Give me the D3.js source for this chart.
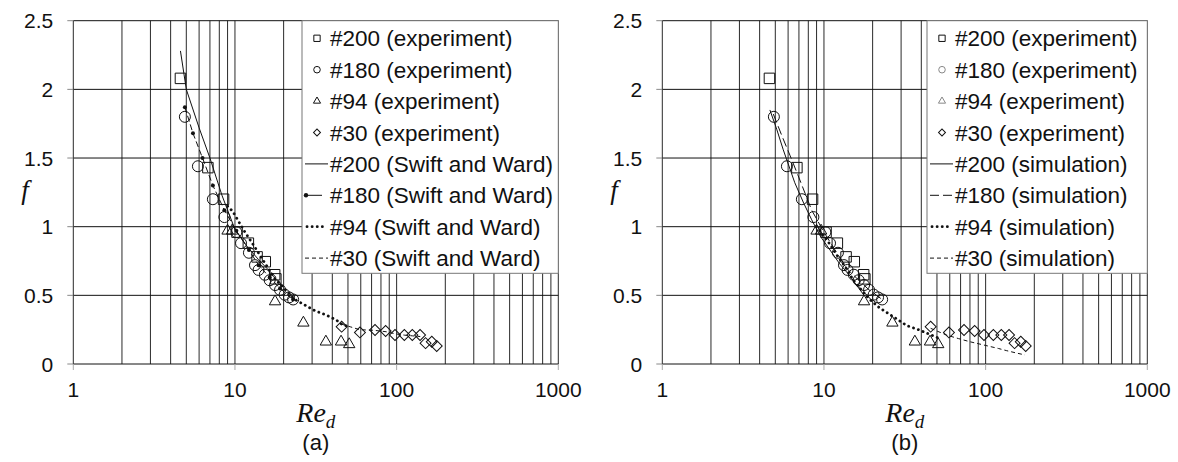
<!DOCTYPE html>
<html>
<head>
<meta charset="utf-8">
<script src="https://cdn.jsdelivr.net/npm/d3@7"></script>
<style>
  body { margin: 0; background: #fff; }
  svg text { font-family: "Liberation Sans", Arial, sans-serif; fill: #111; }
</style>
</head>
<body>
<script>
// axes
var xTicks = [1, 10, 100, 1000];
var xTickLabels = ["1", "10", "100", "1000"];
var yTicks = [0, 0.5, 1, 1.5, 2, 2.5];
var yTickLabels = ["0", "0.5", "1", "1.5", "2", "2.5"];

// experiments (same in both panels)
var exp200Re = [4.6, 6.8, 8.5, 10.3, 12.1, 13.7, 15.4, 17.6, 17.9];
var exp200F  = [2.08, 1.43, 1.20, 0.96, 0.88, 0.78, 0.745, 0.65, 0.62];
var exp180Re = [4.9, 5.9, 7.3, 8.6, 10.2, 10.9, 12.2, 13.3, 14.0, 15.3, 16.4, 17.7, 19.0, 20.3, 21.6, 22.9];
var exp180F  = [1.80, 1.44, 1.20, 1.07, 0.96, 0.88, 0.81, 0.72, 0.685, 0.65, 0.61, 0.575, 0.54, 0.505, 0.485, 0.47];
var exp94Re  = [9.0, 9.6, 17.7, 26.5, 36.5, 45.3, 50.9];
var exp94F   = [0.97, 0.97, 0.455, 0.30, 0.162, 0.162, 0.143];
var exp30Re  = [45.7, 59.3, 73.5, 85.5, 97.7, 111.6, 125, 139.6, 151, 165, 177];
var exp30F   = [0.272, 0.23, 0.248, 0.24, 0.211, 0.211, 0.211, 0.211, 0.152, 0.162, 0.131];

// Swift and Ward (panel a)
var sw200Re = [4.6, 5.0, 6.0, 7.0, 8.3, 10.0, 12.0, 14.0, 16.1, 18.0];
var sw200F  = [2.28, 2.0, 1.72, 1.50, 1.23, 0.98, 0.85, 0.76, 0.685, 0.63];
var sw180Re = [4.9, 5.5, 6.3, 7.3, 8.6, 10.2, 12.2, 14.0, 16.4, 19.0, 22.9];
var sw180F  = [1.87, 1.68, 1.50, 1.30, 1.12, 0.97, 0.83, 0.72, 0.63, 0.55, 0.47];
var sw94Re  = [9.0, 9.7, 11.4, 12.8, 14.3, 17.7, 23.4, 31, 36.9, 42.4, 45.7, 50.9];
var sw94F   = [1.15, 1.11, 0.97, 0.88, 0.79, 0.62, 0.47, 0.39, 0.355, 0.32, 0.29, 0.27];
var sw30Re  = [45.7, 52, 59, 73, 86, 98, 112, 125, 140];
var sw30F   = [0.29, 0.27, 0.25, 0.245, 0.235, 0.22, 0.21, 0.205, 0.20];

// simulation (panel b)
var sim200Re = [4.63, 5.1, 5.6, 6.6, 7.5, 8.4, 9.5, 10.9, 12.5, 14.5, 16.0, 17.7];
var sim200F  = [1.85, 1.71, 1.56, 1.32, 1.17, 1.05, 0.93, 0.83, 0.73, 0.64, 0.57, 0.50];
var sim180Re = [4.86, 5.5, 6.16, 6.93, 8.4, 10.0, 12.0, 14.0, 16.4, 19.0, 22.9];
var sim180F  = [1.82, 1.66, 1.52, 1.37, 1.12, 0.96, 0.81, 0.69, 0.61, 0.54, 0.47];
var sim94Re  = [9.0, 10.5, 11.9, 13.5, 15.2, 17.3, 19.2, 22, 25.6, 32.5, 38.4, 44.2, 50.9];
var sim94F   = [1.0, 0.9, 0.80, 0.71, 0.61, 0.53, 0.47, 0.41, 0.36, 0.28, 0.25, 0.22, 0.19];
var sim30Re  = [45.7, 50, 57.5, 68, 80, 100, 120, 135, 155, 175];
var sim30F   = [0.26, 0.24, 0.21, 0.185, 0.162, 0.135, 0.113, 0.097, 0.08, 0.066];

var W = 1178, H = 462;
var svg = d3.select("body").append("svg").attr("width", W).attr("height", H);

// plot box for panel (a); panel (b) is shifted by 589
var pLeft = 73.3, pRight = 558.3, pTop = 20.7, pBottom = 364;
var x = d3.scaleLog().domain([1, 1000]).range([pLeft, pRight]);
var y = d3.scaleLinear().domain([0, 2.5]).range([pBottom, pTop]);

var lineStyles = {
  solid:    {dash: null, w: 1},
  dotline:  {dash: "6,3", w: 1},
  dotted:   {dash: "0.1,5", w: 2.8, cap: "round"},
  dashed:   {dash: "4,3", w: 1},
  longdash: {dash: "9,4", w: 1}
};

var symbols = {
  square:   {type: d3.symbolSquare, size: 110, rot: 0},
  circle:   {type: d3.symbolCircle, size: 95, rot: 0},
  triangle: {type: d3.symbolTriangle, size: 56, rot: 0},
  diamond:  {type: d3.symbolSquare, size: 60, rot: 45}
};

function drawPanel(off, legendLeft, curves, legendLabels, tag) {
  var g = svg.append("g").attr("transform", "translate(" + off + ",0)");

  // vertical grid (major + minor) from the log scale ticks
  g.selectAll(".vg").data(x.ticks()).enter().append("line")
    .attr("x1", d => x(d)).attr("x2", d => x(d))
    .attr("y1", pTop).attr("y2", pBottom)
    .attr("stroke", "#2a2a2a").attr("stroke-width", 1);

  g.selectAll(".hg").data(yTicks).enter().append("line")
    .attr("x1", pLeft).attr("x2", pRight)
    .attr("y1", d => y(d)).attr("y2", d => y(d))
    .attr("stroke", "#111").attr("stroke-width", 1);

  // small outside ticks
  g.selectAll(".xt").data(xTicks).enter().append("line")
    .attr("x1", d => x(d)).attr("x2", d => x(d))
    .attr("y1", pBottom).attr("y2", pBottom + 6)
    .attr("stroke", "#aaa");
  g.selectAll(".yt").data(yTicks).enter().append("line")
    .attr("x1", pLeft - 6).attr("x2", pLeft)
    .attr("y1", d => y(d)).attr("y2", d => y(d))
    .attr("stroke", "#888");

  // tick labels
  g.selectAll(".xl").data(xTicks).enter().append("text")
    .attr("x", d => x(d)).attr("y", pBottom + 33)
    .attr("text-anchor", "middle").style("font-size", "21px")
    .text((d, i) => xTickLabels[i]);
  g.selectAll(".yl").data(yTicks).enter().append("text")
    .attr("x", pLeft - 20).attr("y", d => y(d)).attr("dy", "0.36em")
    .attr("text-anchor", "end").style("font-size", "21px")
    .text((d, i) => yTickLabels[i]);

  // axis titles
  g.append("text").attr("x", 25).attr("y", 199)
    .attr("text-anchor", "middle")
    .style("font-family", "'Liberation Serif', 'Times New Roman', serif")
    .style("font-style", "italic").style("font-size", "27px")
    .text("f");
  var xt = g.append("text").attr("x", (pLeft + pRight) / 2).attr("y", 422)
    .attr("text-anchor", "middle")
    .style("font-family", "'Liberation Serif', 'Times New Roman', serif")
    .style("font-style", "italic").style("font-size", "28px");
  xt.append("tspan").text("Re");
  xt.append("tspan").attr("dy", 6).style("font-size", "19px").text("d");
  g.append("text").attr("x", (pLeft + pRight) / 2).attr("y", 450)
    .attr("text-anchor", "middle").style("font-size", "22px")
    .text(tag);

  var lineGen = d3.line().x(d => x(d[0])).y(d => y(d[1]));

  // model curves
  curves.forEach(function (c) {
    var st = lineStyles[c.style];
    var pts = d3.zip(c.re, c.f);
    g.append("path").attr("d", lineGen(pts))
      .attr("fill", "none").attr("stroke", "#111")
      .attr("stroke-width", st.w)
      .attr("stroke-dasharray", st.dash)
      .attr("stroke-linecap", st.cap || "butt");
    if (c.style == "dotline") {
      g.selectAll(null).data(pts).enter().append("circle")
        .attr("cx", d => x(d[0])).attr("cy", d => y(d[1]))
        .attr("r", 2).attr("fill", "#111");
    }
  });

  // experiment markers
  var exps = [
    {re: exp200Re, f: exp200F, sym: "square"},
    {re: exp180Re, f: exp180F, sym: "circle"},
    {re: exp94Re, f: exp94F, sym: "triangle"},
    {re: exp30Re, f: exp30F, sym: "diamond"}
  ];
  exps.forEach(function (e) {
    var s = symbols[e.sym];
    g.selectAll(null).data(d3.zip(e.re, e.f)).enter().append("path")
      .attr("d", d3.symbol().type(s.type).size(s.size))
      .attr("transform", d => "translate(" + x(d[0]) + "," + y(d[1]) + ") rotate(" + s.rot + ")")
      .attr("fill", "none").attr("stroke", "#111").attr("stroke-width", 1);
  });

  // legend
  var lg = svg.append("g");
  var lx = legendLeft, lw = pRight + off - legendLeft;
  lg.append("rect").attr("x", lx).attr("y", pTop).attr("width", lw).attr("height", 273.3 - pTop)
    .attr("fill", "#fff").attr("stroke", "#777").attr("stroke-width", 1);
  var rowY = i => 38.3 + i * 31.4;
  var legendSyms = ["square", "circle", "triangle", "diamond"];
  var lScale = {square: 40, circle: 34, triangle: 22, diamond: 24};
  legendLabels.forEach(function (lab, i) {
    var cy = rowY(i);
    if (i < 4) {
      var s = symbols[legendSyms[i]];
      var grey = off > 0 && (i == 1 || i == 2);
      lg.append("path")
        .attr("d", d3.symbol().type(s.type).size(lScale[legendSyms[i]]))
        .attr("transform", "translate(" + (lx + 15) + "," + cy + ") rotate(" + s.rot + ")")
        .attr("fill", "none").attr("stroke", grey ? "#888" : "#111").attr("stroke-width", 1);
    } else {
      var st = lineStyles[curves[i - 4].style];
      var x1 = lx + 3, x2 = lx + 26;
      if (curves[i - 4].style == "dotted") { x1 = lx + 5; x2 = lx + 25; }
      if (curves[i - 4].style == "dotline") { x1 = lx + 4; x2 = lx + 20; }
      lg.append("line").attr("x1", x1).attr("x2", x2).attr("y1", cy).attr("y2", cy)
        .attr("stroke", "#111").attr("stroke-width", st.w)
        .attr("stroke-dasharray", curves[i - 4].style == "dotline" ? null : st.dash)
        .attr("stroke-linecap", st.cap || "butt");
      if (curves[i - 4].style == "dotline") {
        lg.append("circle").attr("cx", x1).attr("cy", cy).attr("r", 2.2).attr("fill", "#111");
      }
    }
    lg.append("text").attr("x", lx + 28).attr("y", cy).attr("dy", "0.36em")
      .style("font-size", "22.5px").text(lab);
  });
}

var expLabels = ["#200 (experiment)", "#180 (experiment)", "#94 (experiment)", "#30 (experiment)"];

drawPanel(0, 302, [
  {re: sw200Re, f: sw200F, style: "solid"},
  {re: sw180Re, f: sw180F, style: "dotline"},
  {re: sw94Re, f: sw94F, style: "dotted"},
  {re: sw30Re, f: sw30F, style: "dashed"}
], expLabels.concat(["#200 (Swift and Ward)", "#180 (Swift and Ward)", "#94 (Swift and Ward)", "#30 (Swift and Ward)"]), "(a)");

drawPanel(589, 927, [
  {re: sim200Re, f: sim200F, style: "solid"},
  {re: sim180Re, f: sim180F, style: "longdash"},
  {re: sim94Re, f: sim94F, style: "dotted"},
  {re: sim30Re, f: sim30F, style: "dashed"}
], expLabels.concat(["#200 (simulation)", "#180 (simulation)", "#94 (simulation)", "#30 (simulation)"]), "(b)");
</script>
</body>
</html>
